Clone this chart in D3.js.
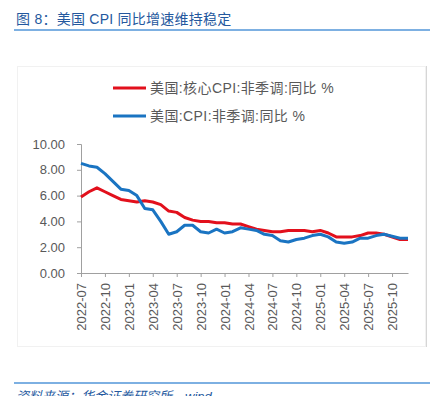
<!DOCTYPE html>
<html>
<head>
<meta charset="utf-8">
<script src="https://cdn.jsdelivr.net/npm/d3@7"></script>
<style>
	body { margin: 0; background: #fff; }
	svg { display: block; font-family: "Liberation Sans", Arial, "Noto Sans CJK SC", sans-serif; }
</style>
</head>
<body>
<svg id="graphic" width="434" height="396"></svg>
<script>
// Monthly, 2022-07 .. 2025-12 (2025-10 not published -> null, line joins across it)
var months = [
	"2022-07","2022-08","2022-09","2022-10","2022-11","2022-12",
	"2023-01","2023-02","2023-03","2023-04","2023-05","2023-06","2023-07","2023-08","2023-09","2023-10","2023-11","2023-12",
	"2024-01","2024-02","2024-03","2024-04","2024-05","2024-06","2024-07","2024-08","2024-09","2024-10","2024-11","2024-12",
	"2025-01","2025-02","2025-03","2025-04","2025-05","2025-06","2025-07","2025-08","2025-09","2025-10","2025-11","2025-12"
];

var coreCpi = [
	5.9, 6.3, 6.6, 6.3, 6.0, 5.7,
	5.6, 5.5, 5.6, 5.5, 5.3, 4.8, 4.7, 4.3, 4.1, 4.0, 4.0, 3.9,
	3.9, 3.8, 3.8, 3.6, 3.4, 3.3, 3.2, 3.2, 3.3, 3.3, 3.3, 3.2,
	3.3, 3.1, 2.8, 2.8, 2.8, 2.9, 3.1, 3.1, 3.0, null, 2.6, 2.6
];

var headlineCpi = [
	8.5, 8.3, 8.2, 7.7, 7.1, 6.5,
	6.4, 6.0, 5.0, 4.9, 4.0, 3.0, 3.2, 3.7, 3.7, 3.2, 3.1, 3.4,
	3.1, 3.2, 3.5, 3.4, 3.3, 3.0, 2.9, 2.5, 2.4, 2.6, 2.7, 2.9,
	3.0, 2.8, 2.4, 2.3, 2.4, 2.7, 2.7, 2.9, 3.0, null, 2.7, 2.7
];

var xTickLabels = [
	"2022-07","2022-10","2023-01","2023-04","2023-07","2023-10","2024-01",
	"2024-04","2024-07","2024-10","2025-01","2025-04","2025-07","2025-10"
];

var yTicks = [0, 2, 4, 6, 8, 10];

var seriesNames = ["美国:核心CPI:非季调:同比 %", "美国:CPI:非季调:同比 %"];
var seriesColors = ["#e2101c", "#1a74c2"];

var TITLE_COLOR = "#24589e";
var RULE_COLOR = "#7db0e2";
var AXIS_COLOR = "#a0a0a0";
var TEXT_COLOR = "#595959";


function drawChart() {
	var svg = d3.select("svg");

	// Title + rule
	svg.append("text")
		.attr("x", 16)
		.attr("y", 24)
		.attr("font-size", "14px")
		.attr("letter-spacing", "0.25px")
		.attr("fill", TITLE_COLOR)
		.text("图 8：美国 CPI 同比增速维持稳定");

	svg.append("line")
		.attr("x1", 14).attr("x2", 430)
		.attr("y1", 30).attr("y2", 30)
		.attr("stroke", RULE_COLOR)
		.attr("stroke-width", 2);

	// Chart panel frame (faint, right edge a little darker)
	svg.append("rect")
		.attr("x", 17.5).attr("y", 66.5)
		.attr("width", 408).attr("height", 280)
		.attr("fill", "none")
		.attr("stroke", "#f1f1f1");

	svg.append("line")
		.attr("x1", 426.5).attr("x2", 426.5)
		.attr("y1", 66).attr("y2", 347)
		.attr("stroke", "#d6d6d6");

	var x = d3.scalePoint()
		.domain(months)
		.range([81, 408]);

	var y = d3.scaleLinear()
		.domain([0, 10])
		.range([273, 144]);

	// Y axis
	var yAxis = svg.append("g")
		.attr("transform", "translate(81,0)")
		.call(d3.axisLeft(y)
			.tickValues(yTicks)
			.tickSize(4)
			.tickPadding(12)
			.tickFormat(d3.format(".2f")));

	yAxis.select(".domain").attr("stroke", AXIS_COLOR);
	yAxis.selectAll(".tick line").attr("stroke", AXIS_COLOR);
	yAxis.selectAll(".tick text")
		.attr("fill", TEXT_COLOR)
		.attr("font-size", "13px")
		.attr("font-family", "\"Liberation Sans\", Arial, sans-serif");

	// X axis
	var xAxis = svg.append("g")
		.attr("transform", "translate(0,273)")
		.call(d3.axisBottom(x)
			.tickValues(xTickLabels)
			.tickSize(4)
			.tickSizeOuter(0));

	xAxis.select(".domain").attr("stroke", AXIS_COLOR);
	xAxis.selectAll(".tick line").attr("stroke", AXIS_COLOR);
	xAxis.selectAll(".tick text")
		.attr("fill", TEXT_COLOR)
		.attr("font-size", "13px")
		.attr("font-family", "\"Liberation Sans\", Arial, sans-serif")
		.attr("text-anchor", "end")
		.attr("transform", "translate(0,10) rotate(-90)")
		.attr("x", 0)
		.attr("y", 0)
		.attr("dy", "0.35em");

	// Lines: skip the missing month, join straight across it
	var allSeries = [coreCpi, headlineCpi];

	var line = d3.line()
		.x(function(d) { return x(d.m); })
		.y(function(d) { return y(d.v); });

	for (var s = 0; s < allSeries.length; s++) {
		var pts = [];
		for (var i = 0; i < months.length; i++) {
			if (allSeries[s][i] !== null) {
				pts.push({ m: months[i], v: allSeries[s][i] });
			}
		}

		svg.append("path")
			.datum(pts)
			.attr("fill", "none")
			.attr("stroke", seriesColors[s])
			.attr("stroke-width", 3)
			.attr("stroke-linejoin", "round")
			.attr("d", line);
	}

	// Legend
	var legendY = [88, 116];
	for (var k = 0; k < seriesNames.length; k++) {
		svg.append("line")
			.attr("x1", 113).attr("x2", 146)
			.attr("y1", legendY[k]).attr("y2", legendY[k])
			.attr("stroke", seriesColors[k])
			.attr("stroke-width", 3);

		svg.append("text")
			.attr("x", 150)
			.attr("y", legendY[k] + 5)
			.attr("font-size", "14px")
			.attr("letter-spacing", "0.4px")
			.attr("fill", TEXT_COLOR)
			.text(seriesNames[k]);
	}

	// Footer rule + source (cut off at the bottom edge, as in the original)
	svg.append("line")
		.attr("x1", 14).attr("x2", 430)
		.attr("y1", 383).attr("y2", 383)
		.attr("stroke", RULE_COLOR)
		.attr("stroke-width", 2);

	svg.append("text")
		.attr("x", 16)
		.attr("y", 401)
		.attr("font-size", "13px")
		.attr("font-style", "italic")
		.attr("fill", TITLE_COLOR)
		.text("资料来源：华金证券研究所，wind");
}

drawChart();
</script>
</body>
</html>
